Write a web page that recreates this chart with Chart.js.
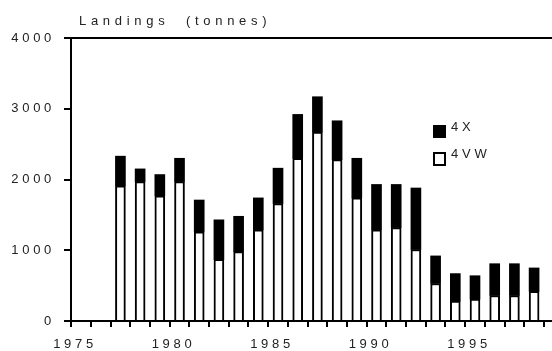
<!DOCTYPE html>
<html>
<head>
<meta charset="utf-8">
<script src="https://cdn.jsdelivr.net/npm/chart.js@4/dist/chart.umd.min.js"></script>
<style>
  html, body { margin: 0; padding: 0; background: #fff; }
  #wrap { width: 552px; height: 351px; }
</style>
</head>
<body>
<div id="wrap"><canvas id="myChart" width="552" height="351"></canvas></div>
<script>
// ------------------------------DATA------------------------------
var years = [1977, 1978, 1979, 1980, 1981, 1982, 1983, 1984, 1985, 1986, 1987,
             1988, 1989, 1990, 1991, 1992, 1993, 1994, 1995, 1996, 1997, 1998];
var landings4VW = [1910, 1970, 1770, 1970, 1260, 870, 980, 1290, 1660, 2300, 2670,
                   2280, 1740, 1290, 1320, 1010, 530, 280, 310, 360, 360, 420];
var landings4X = [420, 180, 300, 330, 450, 560, 500, 450, 500, 620, 500,
                  550, 560, 640, 610, 870, 390, 390, 330, 450, 450, 330];
var xTickLabels = [1975, 1980, 1985, 1990, 1995];
var yTickLabels = [0, 1000, 2000, 3000, 4000];
var titleText = "Landings  (tonnes)";

var font = "'Liberation Sans', Arial, Helvetica, sans-serif";
var textColor = "#222";

function points(values) {
  return years.map(function (yr, i) { return { x: yr, y: values[i] }; });
}

// ---------------------------PLUGINS------------------------------
// wide letter spacing like the original figure
var spacing = {
  id: "spacing",
  beforeLayout: function (chart) { chart.ctx.letterSpacing = "3.7px"; },
  beforeDraw: function (chart) { chart.ctx.letterSpacing = "3.7px"; }
};

var titleAndLegend = {
  id: "titleAndLegend",
  afterDraw: function (chart) {
    var ctx = chart.ctx;
    ctx.save();
    ctx.fillStyle = textColor;
    ctx.font = "13px " + font;
    ctx.textBaseline = "middle";
    ctx.textAlign = "left";
    ctx.letterSpacing = "4.7px";
    ctx.fillText(titleText, 79, 21);

    // legend: 4X on top, 4VW below
    var sets = chart.data.datasets.slice().reverse();
    ctx.letterSpacing = "3.8px";
    ctx.textBaseline = "top";
    sets.forEach(function (ds, i) {
      var bx = 433, by = 125 + i * 27;
      ctx.fillStyle = ds.backgroundColor;
      ctx.fillRect(bx, by, 13, 13);
      if (ds.borderWidth) {
        ctx.lineWidth = 2;
        ctx.strokeStyle = "#000";
        ctx.strokeRect(bx + 1, by + 1, 11, 12);
      }
      ctx.fillStyle = textColor;
      ctx.fillText(ds.label, 451, by - 4);
    });
    ctx.restore();
  }
};

// ----------------------------CHART-------------------------------
new Chart("myChart", {
  type: "bar",
  data: {
    datasets: [{
      label: "4VW",
      data: points(landings4VW),
      backgroundColor: "#ffffff",
      borderColor: "#000000",
      borderWidth: 2,
      barThickness: 10
    }, {
      label: "4X",
      data: points(landings4X),
      backgroundColor: "#000000",
      borderWidth: 0,
      barThickness: 10
    }]
  },
  options: {
    responsive: false,
    animation: false,
    devicePixelRatio: 1,
    layout: { padding: { top: 38, right: 0, left: 0, bottom: 0 } },
    plugins: {
      legend: { display: false },
      title: { display: false },
      tooltip: { enabled: false }
    },
    scales: {
      x: {
        type: "linear",
        stacked: true,
        min: xTickLabels[0],
        max: 1998.4,
        afterFit: function (scale) { scale.height = 30; },
        afterBuildTicks: function (scale) {
          var t = [];
          for (var v = xTickLabels[0]; v <= years[years.length - 1]; v++) t.push({ value: v });
          scale.ticks = t;
        },
        border: { color: "#000", width: 2 },
        grid: { drawOnChartArea: false, tickLength: 6, tickColor: "#000", lineWidth: 2 },
        ticks: {
          autoSkip: false,
          maxRotation: 0,
          padding: 10,
          labelOffset: -6,
          color: textColor,
          font: { family: font, size: 13 },
          callback: function (v) { return xTickLabels.indexOf(v) >= 0 ? String(v) : ""; }
        }
      },
      y: {
        stacked: true,
        min: yTickLabels[0],
        max: yTickLabels[yTickLabels.length - 1],
        afterFit: function (scale) { scale.width = 71; },
        afterBuildTicks: function (scale) {
          scale.ticks = yTickLabels.map(function (v) { return { value: v }; });
        },
        border: { color: "#000", width: 2 },
        grid: {
          tickLength: 7,
          tickColor: "#000",
          lineWidth: 2,
          color: function (c) { return c.tick && c.tick.value === 4000 ? "#000" : "rgba(0,0,0,0)"; }
        },
        ticks: {
          padding: 9,
          color: textColor,
          font: { family: font, size: 13 },
          callback: function (v) { return String(v); }
        }
      }
    }
  },
  plugins: [spacing, titleAndLegend]
});
</script>
</body>
</html>
